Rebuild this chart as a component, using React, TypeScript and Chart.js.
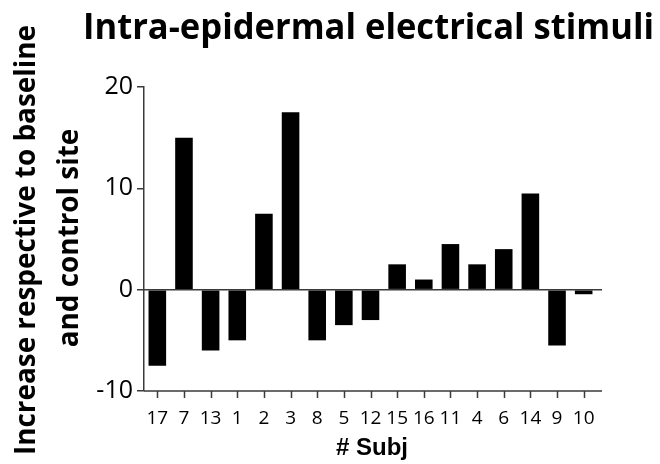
import React, { useEffect, useRef } from "react";
import { Chart, registerables } from "chart.js";

Chart.register(...registerables);

const chartTitle = "Intra-epidermal electrical stimuli";
const yTitleLines = ["Increase respective to baseline", "and control site"];
const xTitle = "# Subj";
const subjects = ["17", "7", "13", "1", "2", "3", "8", "5", "12", "15", "16", "11", "4", "6", "14", "9", "10"];
const increases = [-7.5, 15, -6, -5, 7.5, 17.5, -5, -3.5, -3, 2.5, 1, 4.5, 2.5, 4, 9.5, -5.5, -0.45];
const yTicks = [-10, 0, 10, 20];

const AXIS_COLOR = "#3a3a3a";

const decorPlugin = {
  id: "decor",
  afterDatasetsDraw(chart: any) {
    const ctx = chart.ctx as CanvasRenderingContext2D;
    const area = chart.chartArea;
    const yScale = chart.scales.y;
    const xScale = chart.scales.x;
    const y0 = yScale.getPixelForValue(0);
    const lineEnd = area.right + 5;
    ctx.save();
    ctx.strokeStyle = AXIS_COLOR;
    ctx.lineWidth = 1.5;
    ctx.beginPath();
    ctx.moveTo(area.left, y0);
    ctx.lineTo(lineEnd, y0);
    ctx.moveTo(area.left, area.bottom);
    ctx.lineTo(lineEnd, area.bottom);
    ctx.stroke();
    // x tick marks
    ctx.beginPath();
    for (let i = 0; i < subjects.length; i++) {
      const px = Math.round(xScale.getPixelForValue(i)) + 0.5;
      ctx.moveTo(px, area.bottom);
      ctx.lineTo(px, area.bottom + 7);
    }
    ctx.stroke();
    ctx.restore();
  },
  afterDraw(chart: any) {
    const ctx = chart.ctx as CanvasRenderingContext2D;
    ctx.save();
    ctx.fillStyle = "#000";
    // main title, condensed bold
    ctx.font = "bold 36px 'Open Sans'";
    ctx.textBaseline = "alphabetic";
    ctx.textAlign = "left";
    const tw = ctx.measureText(chartTitle).width;
    const tScale = 571 / tw;
    ctx.save();
    ctx.translate(83, 39);
    ctx.scale(tScale, 1);
    ctx.fillText(chartTitle, 0, 0);
    ctx.restore();

    // y title, rotated
    ctx.font = "bold 28px 'Open Sans'";
    const w1 = ctx.measureText(yTitleLines[0]).width;
    const yScaleF = 430 / w1;
    const baselines = [35, 78];
    const centers = [240, 238];
    yTitleLines.forEach((line, i) => {
      ctx.save();
      ctx.translate(baselines[i], centers[i]);
      ctx.rotate(-Math.PI / 2);
      ctx.scale(yScaleF, 1);
      ctx.textAlign = "center";
      ctx.fillText(line, 0, 0);
      ctx.restore();
    });

    // x title
    ctx.font = "bold 24px 'Liberation Sans'";
    ctx.textAlign = "center";
    ctx.textBaseline = "middle";
    ctx.fillText(xTitle, 372, 448);
    ctx.restore();
  },
};

export default function App() {
  const canvasRef = useRef<HTMLCanvasElement | null>(null);

  useEffect(() => {
    if (!canvasRef.current) return;
    const chart = new Chart(canvasRef.current, {
      type: "bar",
      data: {
        labels: subjects,
        datasets: [
          {
            data: increases,
            backgroundColor: "#000",
            borderWidth: 0,
            barPercentage: 0.66,
            categoryPercentage: 1,
          },
        ],
      },
      options: {
        animation: false,
        responsive: false,
        maintainAspectRatio: false,
        layout: { padding: { left: 0, top: 87, right: 63, bottom: 0 } },
        plugins: {
          legend: { display: false },
          title: { display: false },
          tooltip: { enabled: false },
        },
        scales: {
          x: {
            type: "category",
            offset: true,
            border: { display: false },
            grid: { display: false, offset: false },
            ticks: {
              color: "#000",
              font: { family: "'Open Sans'", size: 19 },
              padding: 8,
              maxRotation: 0,
              autoSkip: false,
            },
            afterFit(scale: any) {
              scale.height = 73;
            },
          },
          y: {
            min: -10,
            max: 20,
            afterBuildTicks(scale: any) {
              scale.ticks = yTicks.map((v) => ({ value: v }));
            },
            border: { display: true, color: AXIS_COLOR, width: 1.5 },
            grid: {
              drawOnChartArea: false,
              drawTicks: true,
              tickLength: 7,
              color: AXIS_COLOR,
              lineWidth: 1.5,
            },
            ticks: {
              color: "#000",
              font: { family: "'Open Sans'", size: 25 },
              padding: 4,
            },
            afterFit(scale: any) {
              scale.width = 144;
            },
          },
        },
      },
      plugins: [decorPlugin],
    });
    return () => chart.destroy();
  }, []);

  return (
    <div style={{ position: "fixed", left: 0, top: 0, width: 660, height: 464, background: "#fff" }}>
      <canvas ref={canvasRef} width={660} height={464} style={{ display: "block", width: 660, height: 464 }} />
    </div>
  );
}
